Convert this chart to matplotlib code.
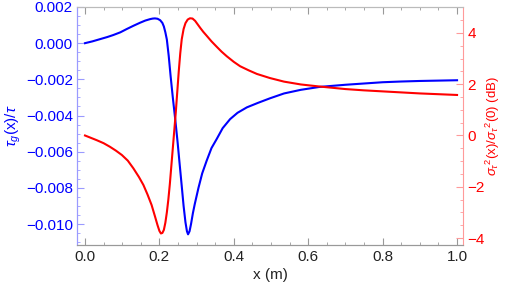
import matplotlib
matplotlib.use("Agg")
import matplotlib.pyplot as plt
from matplotlib.ticker import MultipleLocator, FuncFormatter

plt.rcParams['font.family'] = ['Liberation Sans', 'DejaVu Sans']
plt.rcParams['mathtext.fontset'] = 'custom'
plt.rcParams['mathtext.rm'] = 'Liberation Sans'
plt.rcParams['mathtext.it'] = 'Liberation Sans:italic'
plt.rcParams['mathtext.sf'] = 'Liberation Sans'
plt.rcParams['axes.unicode_minus'] = True

# ---- data ----
blue_x = [0.0, 0.02, 0.04, 0.06, 0.076, 0.095, 0.112, 0.13, 0.148, 0.162, 0.175,
          0.182, 0.188, 0.195, 0.202, 0.208, 0.212, 0.216, 0.22, 0.225, 0.23,
          0.236, 0.243, 0.249, 0.254, 0.26, 0.265, 0.27, 0.274, 0.277, 0.281,
          0.285, 0.29, 0.295, 0.305, 0.315, 0.327, 0.34, 0.354, 0.37, 0.39,
          0.41, 0.435, 0.465, 0.497, 0.535, 0.58, 0.63, 0.70, 0.75, 0.80, 0.85,
          0.90, 0.95, 1.0]
blue_y = [0.0, 0.0001, 0.00022, 0.00034, 0.00045, 0.0006, 0.00078, 0.00096, 0.00113,
          0.00125, 0.00133, 0.00136, 0.00137, 0.00135, 0.00127, 0.00112, 0.00092,
          0.0006, 0.0002, -0.0007, -0.0018, -0.0030, -0.0043, -0.0055, -0.0066,
          -0.0079, -0.0090, -0.0099, -0.0104, -0.01057, -0.0104, -0.0100, -0.0094,
          -0.0089, -0.0080, -0.0072, -0.0065, -0.0058, -0.0053, -0.0047, -0.0042,
          -0.00385, -0.00355, -0.0033, -0.00305, -0.00278, -0.00258, -0.00242, -0.0023,
          -0.00223, -0.00216, -0.00212, -0.00209, -0.00207, -0.00205]

red_x = [0.0, 0.031, 0.05, 0.067, 0.083, 0.099, 0.115, 0.13, 0.145, 0.157, 0.168,
         0.179, 0.188, 0.195, 0.2, 0.204, 0.208, 0.212, 0.216, 0.22, 0.224, 0.228,
         0.232, 0.236, 0.24, 0.244, 0.248, 0.252, 0.256, 0.26, 0.265, 0.27, 0.276,
         0.282, 0.289, 0.296, 0.303, 0.31, 0.318, 0.327, 0.34, 0.354, 0.367, 0.381,
         0.40, 0.417, 0.44, 0.462, 0.497, 0.535, 0.58, 0.63, 0.70, 0.75, 0.80,
         0.85, 0.90, 0.95, 1.0]
red_y = [0.0, -0.18, -0.30, -0.44, -0.59, -0.76, -0.98, -1.28, -1.62, -1.93, -2.3,
         -2.71, -3.15, -3.5, -3.72, -3.82, -3.8, -3.68, -3.4, -3.0, -2.5, -1.9,
         -1.2, -0.5, 0.2, 0.9, 1.7, 2.5, 3.2, 3.75, 4.15, 4.38, 4.52, 4.57, 4.56,
         4.47, 4.33, 4.19, 4.04, 3.89, 3.67, 3.46, 3.27, 3.09, 2.87, 2.70, 2.54,
         2.40, 2.24, 2.10, 1.99, 1.91, 1.81, 1.76, 1.72, 1.68, 1.64, 1.61, 1.58]

x_ticks = [0.0, 0.2, 0.4, 0.6, 0.8, 1.0]
left_ticks = [0.002, 0.0, -0.002, -0.004, -0.006, -0.008, -0.010]
right_ticks = [4, 2, 0, -2, -4]

BLUE = (0, 0, 1)
RED = (1, 0, 0)
FS = 11

fig = plt.figure(figsize=(5.05, 2.91), dpi=100)
ax = fig.add_axes([77/505, 1-245/291, (463-77)/505, (245-7)/291])
ax2 = ax.twinx()

ax.plot(blue_x, blue_y, color=BLUE, lw=1.5, zorder=3, solid_joinstyle='round')
ax2.plot(red_x, red_y, color=RED, lw=1.5, zorder=3, solid_joinstyle='round')

ax.set_xlim(-0.0215, 1.016)
ax.set_ylim(-0.01116, 0.002)
ax2.set_ylim(-4.27, 5.01)

ax.set_xticks(x_ticks)
ax.xaxis.set_minor_locator(MultipleLocator(0.05))
ax.set_yticks(left_ticks)
ax.yaxis.set_minor_locator(MultipleLocator(0.0005))
ax2.set_yticks(right_ticks)
ax2.yaxis.set_minor_locator(MultipleLocator(0.5))

ax.xaxis.set_major_formatter(FuncFormatter(lambda v, p: f"{v:.1f}"))
ax.yaxis.set_major_formatter(FuncFormatter(lambda v, p: f"{v:.3f}".replace('-', '\u2212') if abs(v) > 1e-12 else "0.000"))
ax2.yaxis.set_major_formatter(FuncFormatter(lambda v, p: f"{int(round(v))}".replace('-', '\u2212')))

for a in (ax, ax2):
    for s in a.spines.values():
        s.set_linewidth(0.8)
ax.spines['bottom'].set_color('#999999')
ax.spines['top'].set_color('#bbbbbb')
ax2.spines['bottom'].set_color('#999999')
ax2.spines['top'].set_color('#bbbbbb')
ax.spines['left'].set_color('#9a9aff')
ax2.spines['left'].set_color('#9a9aff')
ax2.spines['right'].set_color('#ff9a9a')
ax.spines['right'].set_visible(False)

ax.tick_params(axis='x', which='both', direction='in', top=True, colors='#999999',
               labelcolor='#222222', labelsize=FS)
ax.tick_params(axis='x', which='major', length=5)
ax.tick_params(axis='x', which='minor', length=2.5)
ax.tick_params(axis='y', which='both', direction='in', colors='#9a9aff',
               labelcolor=BLUE, labelsize=FS, pad=3)
ax.tick_params(axis='y', which='major', length=5)
ax.tick_params(axis='y', which='minor', length=2.5)
ax2.tick_params(axis='y', which='both', direction='in', colors='#ff9a9a',
                labelcolor=RED, labelsize=FS, pad=3)
ax2.tick_params(axis='y', which='major', length=5)
ax2.tick_params(axis='y', which='minor', length=2.5)

ax.set_xlabel('x (m)', fontsize=FS, color='#222222', labelpad=3)
ax.set_ylabel(r'$\tau_g$(x)/$\tau$', fontsize=FS, color=BLUE, labelpad=2)
ax2.set_ylabel(r'$\sigma_\tau{}^2$(x)/$\sigma_\tau{}^2$(0) (dB)', fontsize=9.5, color=RED)
ax2.yaxis.set_label_coords((484 - 77) / 386, 0.5)

fig.savefig('out.png', dpi=100)
